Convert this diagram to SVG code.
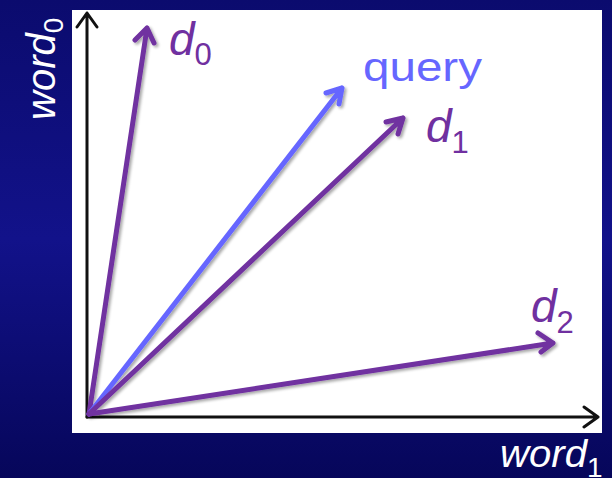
<svg xmlns="http://www.w3.org/2000/svg" width="612" height="478" viewBox="0 0 612 478">
<defs>
<linearGradient id="bg" x1="0" y1="0" x2="0" y2="1">
<stop offset="0" stop-color="#0b0b6e"/>
<stop offset="0.5" stop-color="#12128a"/>
<stop offset="1" stop-color="#06065a"/>
</linearGradient>
<filter id="sh" x="-10%" y="-10%" width="130%" height="130%">
<feGaussianBlur in="SourceAlpha" stdDeviation="1.5"/>
<feOffset dx="2" dy="2" result="b"/>
<feComponentTransfer><feFuncA type="linear" slope="0.35"/></feComponentTransfer>
<feMerge><feMergeNode/><feMergeNode in="SourceGraphic"/></feMerge>
</filter>
</defs>
<style>
.ax{stroke:#111;stroke-width:3;fill:none;stroke-linecap:round;stroke-linejoin:round}
.vp{stroke:#7030a0;stroke-width:5;fill:none;stroke-linecap:round;stroke-linejoin:round}
.vq{stroke:#6666ff;stroke-width:5;fill:none;stroke-linecap:round;stroke-linejoin:round}
.lbl{font-family:"Liberation Sans",Arial,sans-serif;font-style:italic}
.lp{fill:#7030a0}
.lw{fill:#ffffff}
</style>
<rect x="0" y="0" width="612" height="478" fill="url(#bg)"/>
<rect x="72" y="10" width="530" height="423" fill="#ffffff"/>
<g id="axes">
<path class="ax" d="M87,417 L87,13 M77,27 L87,13 L97,27"/>
<path class="ax" d="M87,417 L598,417 M584,407 L598,417 L584,427"/>
</g>
<g id="connectors" filter="url(#sh)">
<path class="vp" d="M89,414 L147,28 M135,40 L147,28 L154,43"/>
<path class="vq" d="M89,414 L342,88 M326,93 L342,88 L339,104"/>
<path class="vp" d="M89,414 L403,118 M386,122 L403,118 L398,134"/>
<path class="vp" d="M89,414 L553,343 M538,333 L553,343 L541,352"/>
</g>
<g id="d0"><text class="lbl lp" x="169" y="55" font-size="46">d<tspan font-size="31" font-style="normal" dy="10">0</tspan></text></g>
<g id="query"><text x="363" y="81" font-family="Liberation Sans,Arial,sans-serif" font-size="40" fill="#6666ff" textLength="119" lengthAdjust="spacingAndGlyphs">query</text></g>
<g id="d1"><text class="lbl lp" x="426" y="142" font-size="46">d<tspan font-size="31" font-style="normal" dy="11">1</tspan></text></g>
<g id="d2"><text class="lbl lp" x="531" y="322" font-size="46">d<tspan font-size="31" font-style="normal" dy="11">2</tspan></text></g>
<g id="word1"><text class="lbl lw" x="500" y="467" font-size="38"><tspan textLength="87" lengthAdjust="spacingAndGlyphs">word</tspan><tspan font-size="28" font-style="normal" dy="10">1</tspan></text></g>
<g id="word0"><text class="lbl lw" transform="translate(55,120) rotate(-90)" font-size="40">word<tspan font-size="28" font-style="normal" dy="8">0</tspan></text></g>
</svg>
